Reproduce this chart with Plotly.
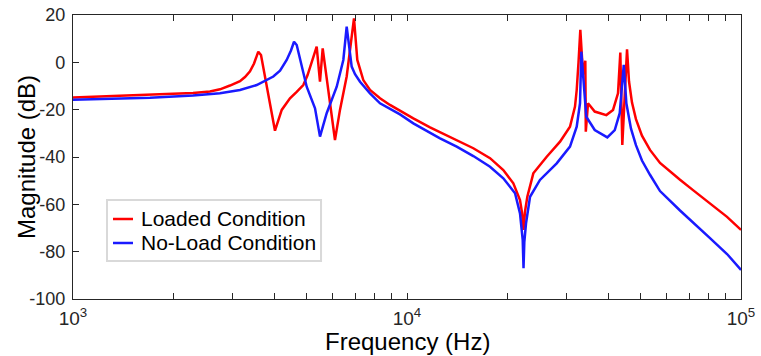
import plotly.graph_objects as go

# Loaded condition (red): frequency (Hz), magnitude (dB)
loaded_freq = [1000, 1291, 1700, 2287, 2570, 2755, 2951, 3162, 3273, 3388, 3484, 3587, 3655,
               4025, 4216, 4463, 4674, 4892, 5036, 5183, 5365, 5489, 5592, 6086, 6300, 6598,
               6939, 7099, 7399, 7748, 8303, 8892, 9528, 10445, 11720, 12557, 14086, 15797,
               17726, 19423, 20815, 21793, 22098, 22329, 22561, 22923, 23889, 26201, 28720,
               30761, 31842, 32220, 32621, 33030, 33650, 34190, 34300, 34830, 36480, 39520,
               41390, 42830, 43520, 44120, 45580, 46200, 47170, 48470, 50520, 53400, 57220,
               61310, 65680, 71840, 80750, 90820, 100000]
loaded_db = [-14.9, -14.3, -13.7, -13.0, -12.3, -11.4, -9.8, -8.0, -6.2, -3.8, -0.5, 4.5, 3.1,
             -28.9, -20.1, -15.2, -12.5, -9.6, -5.5, -0.4, 6.6, -8.2, 5.9, -32.8, -20.1, -6.0,
             18.6, 1.0, -7.5, -11.7, -15.2, -18.0, -20.5, -23.7, -27.5, -29.5, -32.8, -36.3,
             -40.5, -45.5, -51.1, -58.2, -63.5, -70.8, -63.0, -56.8, -46.9, -39.9, -33.5,
             -27.2, -18.7, -11.7, 0.0, 13.7, -5.0, 0.7, -29.3, -17.3, -20.8, -22.3,
             -20.1, -13.1, 4.1, -34.9, 5.5, -8.0, -17.0, -24.0, -31.0, -37.0, -42.5,
             -46.2, -49.6, -54.0, -59.7, -65.3, -70.8]

# No-load condition (blue)
noload_freq = [1000, 1291, 1700, 2287, 2755, 3162, 3548, 3979, 4167, 4363, 4494, 4589, 4675,
               5008, 5304, 5489, 5748, 6160, 6447, 6598, 6829, 6989, 7233, 7748, 8303, 9528,
               10445, 12557, 14086, 15797, 17726, 19423, 21060, 21793, 22204, 22329, 22452,
               22718, 23355, 25010, 28068, 30761, 32220, 32961, 33260, 34420, 36480, 39790,
               41880, 43340, 44560, 45370, 46840, 48470, 50520, 53400, 57220, 65680, 71840,
               80750, 90820, 100000]
noload_db = [-15.8, -15.5, -15.0, -14.0, -13.1, -11.7, -9.6, -6.0, -3.5, 1.0, 5.0, 8.7, 7.3,
             -10.3, -19.4, -31.4, -21.5, -10.3, 1.0, 15.1, -1.8, -5.0, -8.2, -13.1, -17.3, -22.0,
             -25.8, -32.1, -35.6, -39.6, -44.1, -49.0, -55.3, -63.8, -75.0, -87.0, -76.0,
             -68.0, -56.8, -49.7, -42.7, -35.6, -27.2, -17.3, 4.5, -23.0, -28.6, -31.7,
             -28.6, -21.5, -1.1, -17.3, -28.0, -35.0, -41.5, -47.5, -54.4, -62.6, -67.5,
             -74.3, -81.0, -87.7]

series_names = ["Loaded Condition", "No-Load Condition"]
series_colors = ["#ff0000", "#1a1aff"]

x_tickvals = [1000, 10000, 100000]
x_ticktext = ["10<sup>3</sup>", "10<sup>4</sup>", "10<sup>5</sup>"]
x_minor_vals = [2000, 3000, 4000, 5000, 6000, 7000, 8000, 9000,
                20000, 30000, 40000, 50000, 60000, 70000, 80000, 90000]
y_tickvals = [-100, -80, -60, -40, -20, 0, 20]
y_ticktext = ["-100", "-80", "-60", "-40", "-20", "0", "20"]

FONT = "Liberation Sans, Arial, sans-serif"
AX = "#262626"

fig = go.Figure()
for name, color, xs, ys in zip(series_names, series_colors,
                               [loaded_freq, noload_freq], [loaded_db, noload_db]):
    fig.add_trace(go.Scatter(x=xs, y=ys, mode="lines", name=name, showlegend=False,
                             line=dict(color=color, width=2.5)))

# Legend drawn as a boxed key (paper coordinates of the plot area)
shapes = [dict(type="rect", xref="paper", yref="paper", x0=0.0509, x1=0.3713,
               y0=0.1338, y1=0.3486, line=dict(color="#d9d9d9", width=2),
               fillcolor="white", layer="above")]
annotations = []
row_y = [0.2817, 0.1972]
for name, color, ry in zip(series_names, series_colors, row_y):
    shapes.append(dict(type="line", xref="paper", yref="paper", x0=0.0599, x1=0.0898,
                       y0=ry, y1=ry, line=dict(color=color, width=2.5), layer="above"))
    annotations.append(dict(text=name, xref="paper", yref="paper", x=0.0988, y=ry,
                            xanchor="left", yanchor="middle", showarrow=False,
                            font=dict(size=21, color="#000000", family=FONT)))

annotations += [
    dict(text="Magnitude (dB)", xref="paper", yref="paper", x=-0.0704, y=0.5,
         xanchor="center", yanchor="middle", textangle=-90, showarrow=False,
         font=dict(size=24, color="#000000", family=FONT)),
    dict(text="Frequency (Hz)", xref="paper", yref="paper", x=0.5, y=-0.148,
         xanchor="center", yanchor="middle", showarrow=False,
         font=dict(size=24, color="#000000", family=FONT)),
]

fig.update_layout(
    width=761, height=356,
    margin=dict(l=73, r=20, t=15, b=57),
    paper_bgcolor="white", plot_bgcolor="white",
    font=dict(family=FONT, color=AX, size=18),
    showlegend=False,
    xaxis=dict(type="log", range=[3, 5], tickmode="array", tickvals=x_tickvals,
               ticktext=x_ticktext, ticks="inside", ticklen=6, tickwidth=1,
               tickcolor=AX, showline=True, linecolor=AX, linewidth=1.2,
               mirror="ticks", showgrid=False, zeroline=False,
               minor=dict(tickmode="array", tickvals=x_minor_vals, ticks="inside",
                          ticklen=6, tickwidth=1, tickcolor=AX, showgrid=False),
               tickfont=dict(size=19, color=AX), automargin=False,
               ticklabelstandoff=2),
    yaxis=dict(range=[-100, 20], tickmode="array", tickvals=y_tickvals,
               ticktext=y_ticktext,
               ticks="inside", ticklen=6, tickwidth=1, tickcolor=AX,
               showline=True, linecolor=AX, linewidth=1.2, mirror=True,
               showgrid=False, zeroline=False,
               tickfont=dict(size=18, color=AX), automargin=False,
               ticklabelstandoff=3),
    shapes=shapes,
    annotations=annotations,
)

fig.write_html("out.html")
